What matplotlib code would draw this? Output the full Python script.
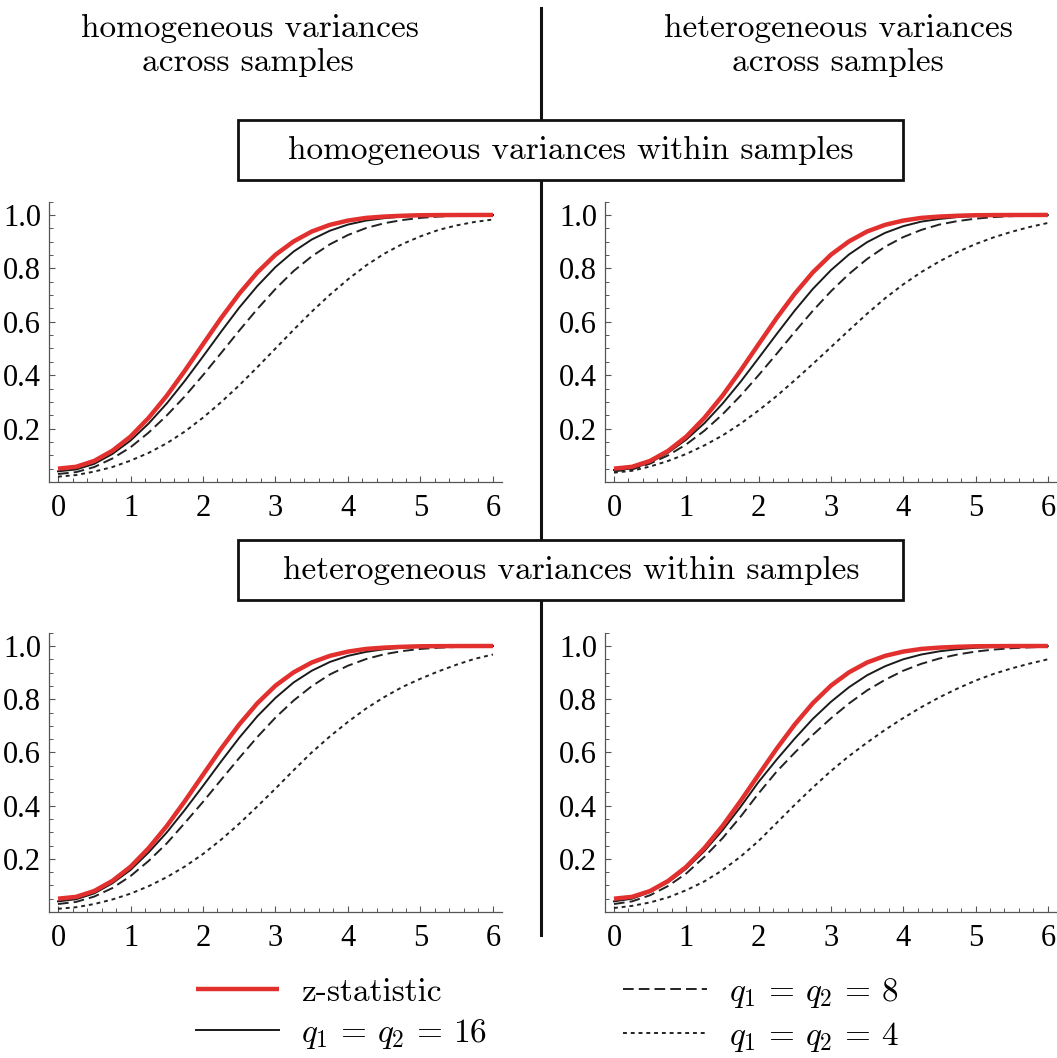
import numpy as np
import matplotlib
matplotlib.use('Agg')
import matplotlib.pyplot as plt
from matplotlib.lines import Line2D
from matplotlib.patches import Rectangle
from matplotlib.ticker import MultipleLocator
from matplotlib.font_manager import FontProperties

plt.rcParams['mathtext.fontset'] = 'cm'
plt.rcParams['axes.unicode_minus'] = False

# effect size grid
delta = [0, 0.25, 0.5, 0.75, 1, 1.25, 1.5, 1.75, 2, 2.25, 2.5, 2.75, 3,
         3.25, 3.5, 3.75, 4, 4.25, 4.5, 4.75, 5, 5.25, 5.5, 5.75, 6]

# z-statistic (same curve in every panel)
z_stat = [0.050, 0.057, 0.079, 0.117, 0.170, 0.240, 0.323, 0.417, 0.516, 0.614, 0.705, 0.785, 0.851,
          0.901, 0.938, 0.963, 0.979, 0.989, 0.994, 0.997, 0.999, 0.9995, 0.9998, 0.9999, 1.0]

# top left: homogeneous within / homogeneous across
tl_q16 = [0.040, 0.047, 0.068, 0.105, 0.155, 0.219, 0.294, 0.379, 0.470, 0.563, 0.653, 0.734, 0.805,
          0.863, 0.908, 0.941, 0.964, 0.979, 0.988, 0.994, 0.997, 0.998, 0.999, 0.9995, 0.9998]
tl_q8 = [0.030, 0.037, 0.056, 0.088, 0.130, 0.185, 0.249, 0.321, 0.400, 0.483, 0.567, 0.648, 0.723,
         0.790, 0.845, 0.890, 0.925, 0.951, 0.969, 0.981, 0.989, 0.994, 0.9967, 0.9983, 0.9991]
tl_q4 = [0.020, 0.026, 0.039, 0.056, 0.080, 0.109, 0.145, 0.189, 0.241, 0.299, 0.362, 0.430, 0.500,
         0.570, 0.638, 0.701, 0.759, 0.811, 0.855, 0.891, 0.920, 0.944, 0.961, 0.974, 0.983]

# top right: homogeneous within / heterogeneous across
tr_q16 = [0.045, 0.050, 0.073, 0.110, 0.159, 0.220, 0.293, 0.375, 0.464, 0.554, 0.642, 0.723, 0.793,
          0.852, 0.898, 0.933, 0.958, 0.975, 0.985, 0.992, 0.996, 0.998, 0.999, 0.9995, 0.9998]
tr_q8 = [0.040, 0.047, 0.069, 0.100, 0.141, 0.192, 0.253, 0.323, 0.400, 0.480, 0.562, 0.641, 0.714,
         0.779, 0.835, 0.881, 0.917, 0.944, 0.964, 0.977, 0.986, 0.992, 0.9955, 0.9976, 0.9988]
tr_q4 = [0.035, 0.042, 0.058, 0.079, 0.105, 0.137, 0.174, 0.218, 0.268, 0.322, 0.381, 0.442, 0.505,
         0.568, 0.630, 0.688, 0.740, 0.786, 0.826, 0.861, 0.891, 0.916, 0.937, 0.955, 0.970]

# bottom left: heterogeneous within / homogeneous across
bl_q16 = [0.040, 0.048, 0.070, 0.108, 0.158, 0.224, 0.299, 0.384, 0.474, 0.566, 0.655, 0.736, 0.805,
          0.863, 0.907, 0.940, 0.963, 0.978, 0.988, 0.9935, 0.9967, 0.9984, 0.9993, 0.9997, 0.9999]
bl_q8 = [0.030, 0.038, 0.058, 0.090, 0.135, 0.192, 0.258, 0.335, 0.414, 0.497, 0.579, 0.658, 0.731,
         0.795, 0.849, 0.893, 0.926, 0.951, 0.969, 0.981, 0.989, 0.9936, 0.9965, 0.9982, 0.9991]
bl_q4 = [0.012, 0.018, 0.030, 0.047, 0.069, 0.097, 0.131, 0.171, 0.218, 0.272, 0.332, 0.397, 0.464,
         0.533, 0.600, 0.660, 0.715, 0.765, 0.808, 0.846, 0.877, 0.905, 0.930, 0.952, 0.968]

# bottom right: heterogeneous within / heterogeneous across
br_q16 = [0.040, 0.050, 0.075, 0.112, 0.163, 0.229, 0.307, 0.395, 0.489, 0.573, 0.652, 0.726, 0.790,
          0.845, 0.890, 0.924, 0.950, 0.968, 0.980, 0.988, 0.9933, 0.9963, 0.998, 0.999, 0.9995]
br_q8 = [0.030, 0.040, 0.063, 0.098, 0.145, 0.207, 0.277, 0.358, 0.446, 0.528, 0.599, 0.666, 0.728,
         0.784, 0.833, 0.873, 0.907, 0.933, 0.953, 0.968, 0.979, 0.9866, 0.9916, 0.995, 0.997]
br_q4 = [0.015, 0.023, 0.036, 0.055, 0.082, 0.115, 0.157, 0.208, 0.267, 0.335, 0.403, 0.468, 0.530,
         0.586, 0.637, 0.685, 0.729, 0.770, 0.807, 0.840, 0.870, 0.895, 0.916, 0.934, 0.950]

col_headers = [["homogeneous variances", "across samples"],
               ["heterogeneous variances", "across samples"]]
row_headers = ["homogeneous variances within samples",
               "heterogeneous variances within samples"]
legend_labels = ["z-statistic", r"$q_1\,=\,q_2\,=\,16$", r"$q_1\,=\,q_2\,=\,8$", r"$q_1\,=\,q_2\,=\,4$"]
yticks = [0.2, 0.4, 0.6, 0.8, 1.0]
ytick_labels = ["0.2", "0.4", "0.6", "0.8", "1.0"]
xticks = [0, 1, 2, 3, 4, 5, 6]

W, H = 1057, 1058
fig = plt.figure(figsize=(W / 100, H / 100), dpi=100)


def fx(x):
    return x / W


def fy(y):
    return 1 - y / H


def axes_px(left, top, right, bottom):
    return fig.add_axes([fx(left), fy(bottom), (right - left) / W, (bottom - top) / H])


panels = [
    ((49.3, 201.6, 501.7, 482), tl_q16, tl_q8, tl_q4),
    ((605.3, 201.6, 1056.5, 482), tr_q16, tr_q8, tr_q4),
    ((49.3, 632.7, 501.7, 912), bl_q16, bl_q8, bl_q4),
    ((605.3, 632.7, 1056.5, 912), br_q16, br_q8, br_q4),
]

handles = None
for rect, q16, q8, q4 in panels:
    ax = axes_px(*rect)
    l4, = ax.plot(delta, q4, color='#222222', lw=1.4, ls=(0, (2.0, 2.0)))
    l8, = ax.plot(delta, q8, color='#222222', lw=1.4, ls=(0, (5.5, 2.6)))
    l16, = ax.plot(delta, q16, color='#1a1a1a', lw=1.4, solid_joinstyle='round')
    lz, = ax.plot(delta, z_stat, color='#e2302f', lw=3.2, solid_capstyle='butt',
                  solid_joinstyle='round')
    if handles is None:
        handles = [lz, l16, l8, l4]
    ax.set_xlim(-0.12, 6.12)
    ax.set_ylim(0, 1.05)
    for s in ['top', 'right']:
        ax.spines[s].set_visible(False)
    for s in ['left', 'bottom']:
        ax.spines[s].set_color('#555555')
        ax.spines[s].set_linewidth(0.9)
    ax.set_xticks(xticks)
    ax.set_yticks(yticks)
    ax.set_yticklabels(ytick_labels)
    ax.xaxis.set_minor_locator(MultipleLocator(0.2))
    ax.yaxis.set_minor_locator(MultipleLocator(0.05))
    ax.tick_params(which='major', direction='in', length=4.5, width=0.8, color='#555555',
                   labelsize=22)
    ax.tick_params(axis='x', which='major', pad=9)
    ax.tick_params(axis='y', which='major', pad=6)
    ax.tick_params(which='minor', direction='in', length=2.6, width=0.7, color='#555555')
    for lab in ax.get_xticklabels() + ax.get_yticklabels():
        lab.set_fontfamily('Liberation Serif')
    ax.patch.set_alpha(0)

# column headers
fig.text(fx(250), fy(28), col_headers[0][0], ha='center', va='center', fontsize=24, family='cmr10')
fig.text(fx(248), fy(62), col_headers[0][1], ha='center', va='center', fontsize=24, family='cmr10')
fig.text(fx(838), fy(28), col_headers[1][0], ha='center', va='center', fontsize=24, family='cmr10')
fig.text(fx(838), fy(62), col_headers[1][1], ha='center', va='center', fontsize=24, family='cmr10')

# divider and row boxes
fig.add_artist(Line2D([fx(541), fx(541)], [fy(8), fy(935)], lw=2.2, color='#111111',
                      transform=fig.transFigure, zorder=1))
for top, label in zip([120, 540], row_headers):
    fig.add_artist(Rectangle((fx(238), fy(top + 60)), (903 - 238) / W, 60 / H,
                             facecolor='white', edgecolor='#111111', lw=2.0,
                             transform=fig.transFigure, zorder=2))
    fig.text(fx(571), fy(top + 30), label, ha='center', va='center', fontsize=24,
             family='cmr10', zorder=3)

fig.legend(handles, legend_labels, loc='center', bbox_to_anchor=(fx(547), fy(1015)),
           ncol=2, frameon=False, prop=FontProperties(family='cmr10', size=24),
           handlelength=2.5, handletextpad=0.66, columnspacing=4.1, labelspacing=0.3)

fig.savefig('out.png', dpi=100)
